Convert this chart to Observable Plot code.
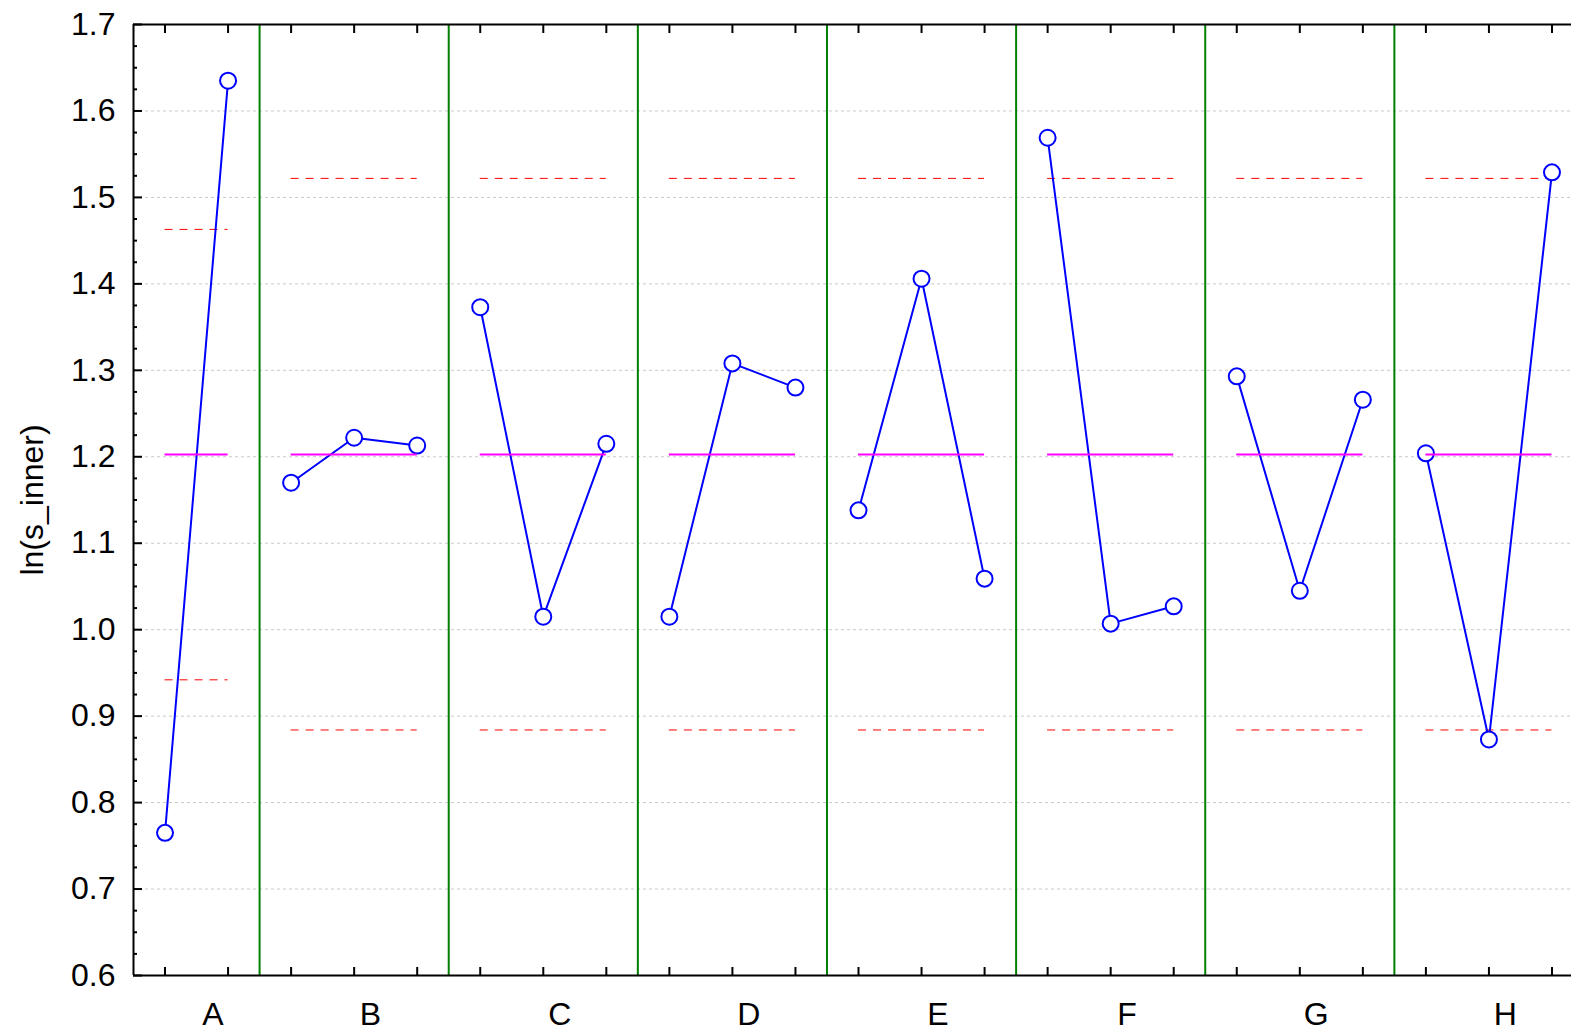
<!DOCTYPE html>
<html><head><meta charset="utf-8">
<script src="https://cdn.jsdelivr.net/npm/d3@7"></script>
<script src="https://cdn.jsdelivr.net/npm/@observablehq/plot@0.6"></script>
<style>html,body{margin:0;padding:0;overflow:hidden;background:#fff}#chart{width:1571px;overflow:hidden}#chart svg{max-width:none !important}</style>
</head><body><div id="chart"></div>
<script>
const factors = ["A", "B", "C", "D", "E", "F", "G", "H"];
const valuesA = [0.765, 1.635];
const valuesB = [1.170, 1.222, 1.213];
const valuesC = [1.373, 1.015, 1.215];
const valuesD = [1.015, 1.308, 1.280];
const valuesE = [1.138, 1.406, 1.059];
const valuesF = [1.569, 1.007, 1.027];
const valuesG = [1.293, 1.045, 1.266];
const valuesH = [1.204, 0.873, 1.529];
const upperLimits = [1.463, 1.522, 1.522, 1.522, 1.522, 1.522, 1.522, 1.522];
const lowerLimits = [0.942, 0.884, 0.884, 0.884, 0.884, 0.884, 0.884, 0.884];
const grandMean = 1.2025;
const yTicks = [0.6, 0.7, 0.8, 0.9, 1.0, 1.1, 1.2, 1.3, 1.4, 1.5, 1.6, 1.7];
const yLabel = "ln(s_inner)";

const groups = [valuesA, valuesB, valuesC, valuesD, valuesE, valuesF, valuesG, valuesH];

const rows = [], limitRows = [], meanRows = [], separators = [], levelPos = [], labelPos = [];
let start = 0;
groups.forEach((vals, i) => {
  vals.forEach((v, j) => {
    const pos = start + j + 0.5;
    rows.push({factor: factors[i], pos, value: v});
    levelPos.push(pos);
  });
  const x1 = start + 0.5, x2 = start + vals.length - 0.5;
  limitRows.push({x1, x2, value: upperLimits[i]});
  limitRows.push({x1, x2, value: lowerLimits[i]});
  meanRows.push({x1, x2, value: grandMean});
  labelPos.push({pos: start + vals.length / 2 + 0.26, label: factors[i]});
  start += vals.length;
  separators.push(start);
});
const total = start;
separators.pop();

const minorTicks = d3.range(0, 45).map(k => +(0.6 + k * 0.025).toFixed(3)).filter(v => Math.abs(v * 10 - Math.round(v * 10)) > 1e-6);
const gridTicks = yTicks.slice(1, -1);
const labelMap = new Map(labelPos.map(d => [d.pos, d.label]));

const font = "'Liberation Sans', Arial, Helvetica, sans-serif";

const chart = Plot.plot({
  width: 1600,
  height: 1031,
  marginLeft: 133,
  marginRight: 17,
  marginTop: 24,
  marginBottom: 56,
  style: {fontFamily: font, background: "white", maxWidth: "none"},
  x: {domain: [0, total]},
  y: {domain: [0.6, 1.7]},
  marks: [
    Plot.ruleY(gridTicks, {stroke: "#c8c8c8", strokeDasharray: "3,3", strokeWidth: 1}),
    Plot.ruleX(separators, {stroke: "#008000", strokeWidth: 2}),
    Plot.ruleY(limitRows, {y: "value", x1: "x1", x2: "x2", stroke: "#ff0000", strokeDasharray: "8,7", strokeWidth: 1}),
    Plot.line(rows, {x: "pos", y: "value", z: "factor", stroke: "#0000ff", strokeWidth: 2}),
    Plot.dot(rows, {x: "pos", y: "value", r: 8, fill: "white", stroke: "#0000ff", strokeWidth: 2}),
    Plot.ruleY(meanRows, {y: "value", x1: "x1", x2: "x2", stroke: "#ff00ff", strokeWidth: 2}),
    Plot.ruleX([0, total], {stroke: "black", strokeWidth: 2}),
    Plot.ruleY([0.6, 1.7], {stroke: "black", strokeWidth: 2}),
    Plot.axisY(yTicks, {anchor: "left", tickSize: 9, dx: 9, text: null, stroke: "black", strokeWidth: 2, label: null}),
    Plot.axisY(minorTicks, {anchor: "left", tickSize: 4, dx: 4, text: null, stroke: "black", strokeWidth: 2, label: null}),
    Plot.axisY(yTicks, {anchor: "left", tickSize: 0, tickPadding: 18, fontSize: 32, fill: "black", tickFormat: d => d.toFixed(1), label: null}),
    Plot.axisX(levelPos, {anchor: "bottom", tickSize: 8, dy: -8, text: null, stroke: "black", strokeWidth: 2, label: null}),
    Plot.axisX(levelPos, {anchor: "top", tickSize: 8, dy: 8, text: null, stroke: "black", strokeWidth: 2, label: null}),
    Plot.axisX(labelPos.map(d => d.pos), {anchor: "bottom", tickSize: 0, tickPadding: 27, fontSize: 32, fill: "black", tickFormat: d => labelMap.get(d), label: null}),
    Plot.text([yLabel], {frameAnchor: "left", dx: -101, rotate: -90, fontSize: 32, fill: "black", textAnchor: "middle", lineAnchor: "middle"})
  ]
});
document.getElementById("chart").appendChild(chart);
</script>
</body></html>
